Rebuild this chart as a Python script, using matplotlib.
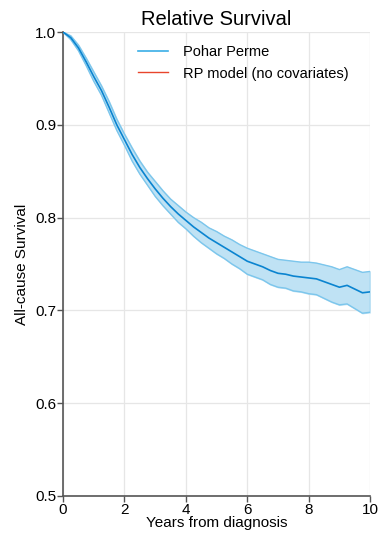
import matplotlib
matplotlib.use('Agg')
import matplotlib.pyplot as plt

plt.rcParams['font.family'] = ['Liberation Sans', 'DejaVu Sans']

# odcitane hodnoty z grafu (kazdych 0.25 roka)
years = [0, 0.25, 0.5, 0.75, 1, 1.25, 1.5, 1.75, 2, 2.25, 2.5, 2.75, 3, 3.25, 3.5, 3.75,
         4, 4.25, 4.5, 4.75, 5, 5.25, 5.5, 5.75, 6, 6.25, 6.5, 6.75, 7, 7.25, 7.5, 7.75,
         8, 8.25, 8.5, 8.75, 9, 9.25, 9.5, 9.75, 10]
surv = [1.000, 0.994, 0.983, 0.968, 0.952, 0.937, 0.919, 0.900, 0.884, 0.868, 0.854,
        0.842, 0.831, 0.821, 0.812, 0.804, 0.797, 0.790, 0.784, 0.778, 0.773, 0.768,
        0.763, 0.758, 0.753, 0.750, 0.747, 0.743, 0.740, 0.739, 0.737, 0.736, 0.735,
        0.734, 0.731, 0.728, 0.725, 0.727, 0.723, 0.719, 0.720]
ci_lower = [1.000, 0.992, 0.980, 0.964, 0.947, 0.932, 0.913, 0.894, 0.878, 0.861, 0.847,
            0.835, 0.823, 0.813, 0.804, 0.795, 0.788, 0.780, 0.773, 0.767, 0.761, 0.756,
            0.750, 0.745, 0.739, 0.736, 0.733, 0.728, 0.725, 0.724, 0.721, 0.720, 0.718,
            0.717, 0.713, 0.709, 0.706, 0.707, 0.702, 0.697, 0.698]
ci_upper = [1.000, 0.996, 0.986, 0.972, 0.957, 0.942, 0.925, 0.906, 0.890, 0.875, 0.861,
            0.849, 0.839, 0.829, 0.820, 0.813, 0.806, 0.800, 0.795, 0.789, 0.785, 0.780,
            0.776, 0.771, 0.767, 0.764, 0.761, 0.758, 0.755, 0.754, 0.753, 0.752, 0.752,
            0.751, 0.749, 0.747, 0.744, 0.747, 0.744, 0.741, 0.742]

fig = plt.figure(figsize=(3.8, 5.35), dpi=100)
ax = fig.add_axes([0.166, 0.073, 0.808, 0.867])

ax.fill_between(years, ci_lower, ci_upper, color='#bfe2f4', zorder=2)
ax.plot(years, ci_lower, color='#7cc6ec', lw=1, zorder=3)
ax.plot(years, ci_upper, color='#7cc6ec', lw=1, zorder=3)
ax.vlines(years[-1], ci_lower[-1], ci_upper[-1], color='#7cc6ec', lw=1, zorder=3)
ax.plot(years, surv, color='#0a84d0', lw=1.2, zorder=4)

# legenda (RP model nie je v grafe vykresleny)
h1, = ax.plot([], [], color='#3aaee6', lw=1.2, label='Pohar Perme')
h2, = ax.plot([], [], color='#e8452c', lw=1, label='RP model (no covariates)')
ax.legend(handles=[h1, h2], loc='upper left', bbox_to_anchor=(0.2, 1.0), frameon=False,
          fontsize=10.5, handlelength=2.1, handletextpad=1.0, labelspacing=0.5)

ax.set_xlim(0, 10)
ax.set_ylim(0.5, 1.0)
ax.set_xticks([0, 2, 4, 6, 8, 10])
ax.set_yticks([0.5, 0.6, 0.7, 0.8, 0.9, 1.0])
ax.set_yticklabels(['0.5', '0.6', '0.7', '0.8', '0.9', '1.0'])
ax.grid(True, color='#e6e6e6', lw=0.9, zorder=0)
ax.set_axisbelow(True)

for s in ['top', 'right']:
    ax.spines[s].set_visible(False)
for s in ['left', 'bottom']:
    ax.spines[s].set_color('#555555')
    ax.spines[s].set_linewidth(1.2)
ax.tick_params(labelsize=11, length=4, width=1, color='#555555', pad=1)

ax.set_title('Relative Survival', fontsize=14.5, pad=5)
ax.set_xlabel('Years from diagnosis', fontsize=11, labelpad=-1)
ax.set_ylabel('All-cause Survival', fontsize=11, labelpad=4)

fig.savefig('out.png', dpi=100)
